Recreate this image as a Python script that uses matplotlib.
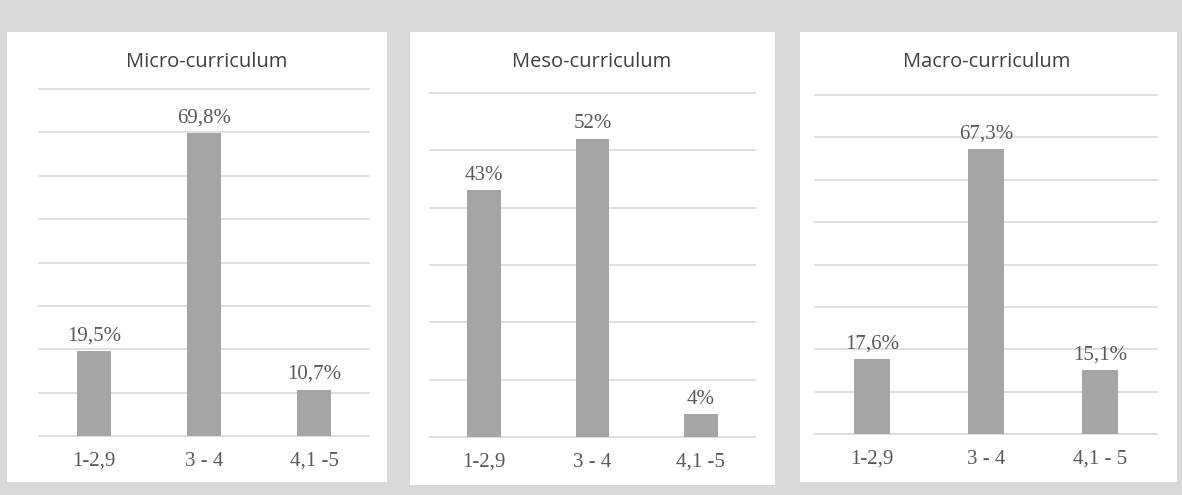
import matplotlib

matplotlib.use("Agg")
import matplotlib.pyplot as plt
from matplotlib.patches import Rectangle

titles = ["Micro-curriculum", "Meso-curriculum", "Macro-curriculum"]
categories = [
    ["1-2,9", "3 - 4", "4,1 -5"],
    ["1-2,9", "3 - 4", "4,1 -5"],
    ["1-2,9", "3 - 4", "4,1 - 5"],
]
micro_values = [19.5, 69.8, 10.7]
meso_values = [43, 52, 4]
macro_values = [17.6, 67.3, 15.1]
value_labels = [
    ["19,5%", "69,8%", "10,7%"],
    ["43%", "52%", "4%"],
    ["17,6%", "67,3%", "15,1%"],
]
y_max = [80, 60, 80]

W, H = 1182, 495
BG = "#d9d9d9"
BAR = "#a5a5a5"
GRID = "#d9d9d9"
TXT = "#595959"


def px_rect(x0, y0, x1, y1):
    # pixel box (top-left origin) -> figure fraction [left, bottom, width, height]
    return [x0 / W, 1 - y1 / H, (x1 - x0) / W, (y1 - y0) / H]


fig = plt.figure(figsize=(W / 100, H / 100), dpi=100, facecolor=BG)

panels = [(7, 32, 387, 482), (410, 32, 775, 485), (800, 32, 1177, 482)]
axes_boxes = [(39, 89, 369, 436), (430, 93, 755, 437), (815, 95, 1157, 434)]
title_x = [207, 592, 987]

for box in panels:
    l, b, w, h = px_rect(*box)
    fig.patches.append(Rectangle((l, b), w, h, transform=fig.transFigure,
                                 facecolor="white", edgecolor="none", zorder=-10))

series = [micro_values, meso_values, macro_values]
for i, values in enumerate(series):
    ax = fig.add_axes(px_rect(*axes_boxes[i]))
    ax.set_facecolor("none")
    xs = range(len(values))
    ax.bar(xs, values, width=0.31, color=BAR, zorder=3)
    ax.set_xlim(-0.5, 2.5)
    ax.set_ylim(0, y_max[i])
    ax.set_yticks(range(0, y_max[i] + 1, 10))
    ax.yaxis.grid(True, color=GRID, linewidth=1.2, zorder=0)
    for gl in ax.get_ygridlines():
        gl.set_clip_on(False)
    ax.tick_params(left=False, labelleft=False, bottom=False)
    for s in ax.spines.values():
        s.set_visible(False)
    ax.set_xticks(list(xs))
    ax.set_xticklabels(categories[i], family="Liberation Serif", fontsize=15, color=TXT)
    ax.tick_params(axis="x", pad=8)
    for x, v, lab in zip(xs, values, value_labels[i]):
        ax.annotate(lab, (x, v), xytext=(0, 4), textcoords="offset points",
                    ha="center", va="bottom", family="Liberation Serif",
                    fontsize=15, color=TXT)
    fig.text(title_x[i] / W, 1 - 62 / H, titles[i], ha="center", va="center",
             family="Open Sans", fontsize=14.5, color="#404040")

fig.savefig("out.png", dpi=100, facecolor=BG)
